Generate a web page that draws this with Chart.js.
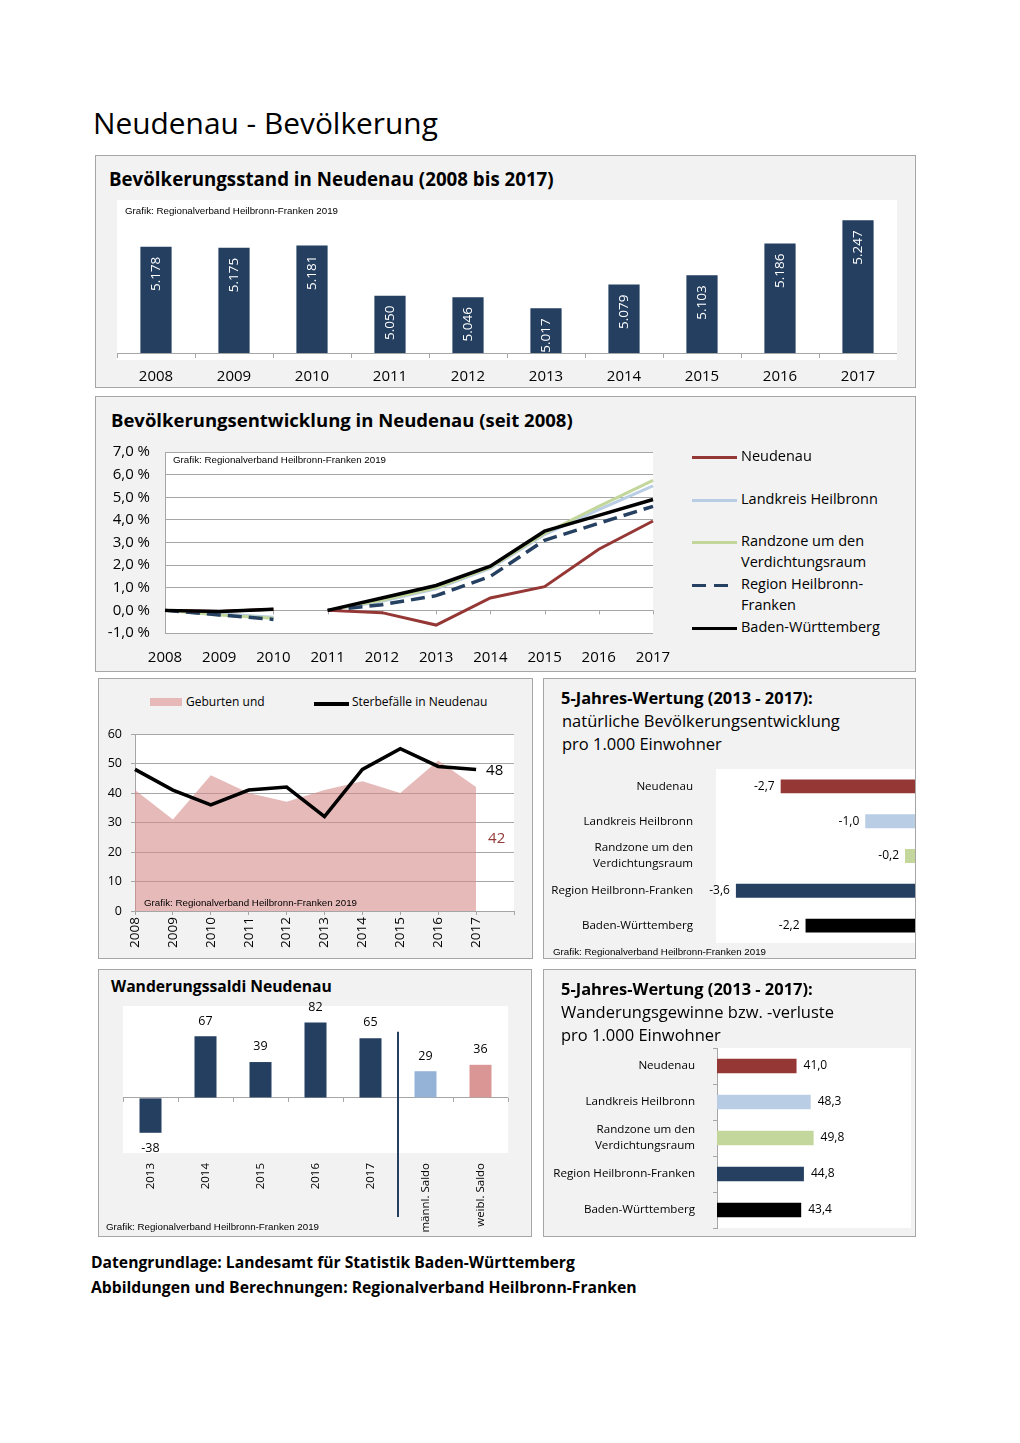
<!DOCTYPE html>
<html lang="de">
<head>
<meta charset="utf-8">
<title>Neudenau - Bevölkerung</title>
<script src="https://cdn.jsdelivr.net/npm/chart.js@4.4.1/dist/chart.umd.min.js"></script>
<style>
  body { margin: 0; background: #fff; font-family: "Open Sans", sans-serif; color: #000; }
  #page { position: relative; width: 1020px; height: 1443px; overflow: hidden; }
  .panel { position: absolute; background: #f2f2f2; border: 1px solid #a6a6a6; box-sizing: border-box; }
  .plot { position: absolute; background: #fff; }
  .txt { position: absolute; white-space: nowrap; line-height: 1; }
  .b { font-weight: 700; }
  .credit { font-family: "Liberation Sans", Arial, sans-serif; }
  canvas { position: absolute; }
  .key { position: absolute; height: 3px; }
</style>
</head>
<body>
<div id="page">
  <div class="txt" data-x="93" data-cy="124" data-fs="30" data-w="345">Neudenau - Bevölkerung</div>

  <!-- Bevölkerungsstand -->
  <div class="panel" style="left:95px;top:155px;width:821px;height:233px"></div>
  <div class="plot" style="left:117px;top:200px;width:780px;height:160px"></div>
  <div class="txt b" data-x="109" data-cy="180" data-fs="19" data-w="445">Bevölkerungsstand in Neudenau (2008 bis 2017)</div>
  <canvas id="c1" width="780" height="188" style="left:117px;top:200px"></canvas>
  <div class="txt credit" data-x="125" data-cy="211" data-fs="9" data-w="213">Grafik: Regionalverband Heilbronn-Franken 2019</div>

  <!-- Bevölkerungsentwicklung -->
  <div class="panel" style="left:95px;top:396px;width:821px;height:276px"></div>
  <div class="plot" style="left:165px;top:452px;width:488px;height:181px"></div>
  <div class="txt b" data-x="111" data-cy="421" data-fs="19" data-w="462">Bevölkerungsentwicklung in Neudenau (seit 2008)</div>
  <canvas id="c2" width="580" height="232" style="left:100px;top:440px"></canvas>
  <div class="txt credit" data-x="173" data-cy="460" data-fs="9" data-w="213">Grafik: Regionalverband Heilbronn-Franken 2019</div>
  <div class="key" style="left:692px;top:456px;width:45px;background:#953735"></div>
  <div class="key" style="left:692px;top:499px;width:45px;background:#b9cde5"></div>
  <div class="key" style="left:692px;top:541px;width:45px;background:#c3d69b"></div>
  <div class="key" style="left:692px;top:584px;width:44px;background:repeating-linear-gradient(90deg,#254061 0 14px,transparent 14px 22px)"></div>
  <div class="key" style="left:692px;top:627px;width:45px;background:#000"></div>
  <div class="txt" data-x="741" data-cy="457" data-fs="14.5">Neudenau</div>
  <div class="txt" data-x="741" data-cy="500" data-fs="14.5">Landkreis Heilbronn</div>
  <div class="txt" data-x="741" data-cy="542" data-fs="14.5">Randzone um den</div>
  <div class="txt" data-x="741" data-cy="563" data-fs="14.5">Verdichtungsraum</div>
  <div class="txt" data-x="741" data-cy="585" data-fs="14.5">Region Heilbronn-</div>
  <div class="txt" data-x="741" data-cy="606" data-fs="14.5">Franken</div>
  <div class="txt" data-x="741" data-cy="628" data-fs="14.5">Baden-Württemberg</div>

  <!-- Geburten und Sterbefälle -->
  <div class="panel" style="left:98px;top:678px;width:435px;height:281px"></div>
  <div class="plot" style="left:135px;top:734px;width:379px;height:177px"></div>
  <div style="position:absolute;left:150px;top:698px;width:32px;height:8px;background:#e6b9b8"></div>
  <div class="txt" data-x="186" data-cy="703" data-fs="12">Geburten und</div>
  <div class="key" style="left:314px;top:702px;width:35px;height:4px;background:#000"></div>
  <div class="txt" data-x="352" data-cy="703" data-fs="12">Sterbefälle in Neudenau</div>
  <canvas id="c3" width="435" height="239" style="left:98px;top:720px"></canvas>
  <div class="txt credit" data-x="144" data-cy="903" data-fs="9" data-w="213">Grafik: Regionalverband Heilbronn-Franken 2019</div>

  <!-- 5-Jahres-Wertung natürlich -->
  <div class="panel" style="left:543px;top:678px;width:373px;height:281px"></div>
  <div class="plot" style="left:716px;top:769px;width:199px;height:174px"></div>
  <div class="txt b" data-x="561" data-cy="699" data-fs="16.5" data-w="252">5-Jahres-Wertung (2013 - 2017):</div>
  <div class="txt" data-x="562" data-cy="722" data-fs="16.5" data-w="278">natürliche Bevölkerungsentwicklung</div>
  <div class="txt" data-x="562" data-cy="745" data-fs="16.5">pro 1.000 Einwohner</div>
  <canvas id="c4" width="373" height="190" style="left:543px;top:760px"></canvas>
  <div class="txt credit" data-x="553" data-cy="952" data-fs="9" data-w="213">Grafik: Regionalverband Heilbronn-Franken 2019</div>

  <!-- Wanderungssaldi -->
  <div class="panel" style="left:98px;top:969px;width:434px;height:268px"></div>
  <div class="plot" style="left:123px;top:1006px;width:385px;height:147px"></div>
  <div class="txt b" data-x="111" data-cy="988" data-fs="16.5" data-w="221">Wanderungssaldi Neudenau</div>
  <canvas id="c5" width="434" height="242" style="left:98px;top:995px"></canvas>
  <div class="txt credit" data-x="106" data-cy="1227" data-fs="9" data-w="213">Grafik: Regionalverband Heilbronn-Franken 2019</div>

  <!-- 5-Jahres-Wertung Wanderung -->
  <div class="panel" style="left:543px;top:969px;width:373px;height:268px"></div>
  <div class="plot" style="left:717px;top:1048px;width:194px;height:180px"></div>
  <div class="txt b" data-x="561" data-cy="990" data-fs="16.5" data-w="252">5-Jahres-Wertung (2013 - 2017):</div>
  <div class="txt" data-x="561" data-cy="1013" data-fs="16.5" data-w="273">Wanderungsgewinne bzw. -verluste</div>
  <div class="txt" data-x="561" data-cy="1036" data-fs="16.5">pro 1.000 Einwohner</div>
  <canvas id="c6" width="373" height="196" style="left:543px;top:1040px"></canvas>

  <div class="txt b" data-x="91" data-cy="1264" data-fs="16" data-w="484">Datengrundlage: Landesamt für Statistik Baden-Württemberg</div>
  <div class="txt b" data-x="91" data-cy="1289" data-fs="16" data-w="546">Abbildungen und Berechnungen: Regionalverband Heilbronn-Franken</div>
</div>

<script>
// Bevölkerungsstand
const popYears = ['2008', '2009', '2010', '2011', '2012', '2013', '2014', '2015', '2016', '2017'];
const popValues = [5178, 5175, 5181, 5050, 5046, 5017, 5079, 5103, 5186, 5247];

// Bevölkerungsentwicklung in % (Basis 2008, ab 2011 Basis 2011)
const devYears = ['2008', '2009', '2010', '2011', '2012', '2013', '2014', '2015', '2016', '2017'];
const devNeudenau = [0, -0.05, 0.05, 0, -0.1, -0.65, 0.55, 1.05, 2.7, 3.95];
const devLandkreis = [0, -0.15, -0.3, 0, 0.4, 0.95, 1.85, 3.35, 4.45, 5.5];
const devRandzone = [0, -0.2, -0.35, 0, 0.45, 1.0, 1.9, 3.4, 4.6, 5.75];
const devRegion = [0, -0.2, -0.4, 0, 0.25, 0.65, 1.5, 3.1, 3.85, 4.6];
const devBW = [0, -0.05, 0.05, 0, 0.55, 1.1, 1.95, 3.5, 4.2, 4.9];
const devTicks = [-1, 0, 1, 2, 3, 4, 5, 6, 7];

// Geburten und Sterbefälle
const natYears = ['2008', '2009', '2010', '2011', '2012', '2013', '2014', '2015', '2016', '2017'];
const births = [41, 31, 46, 40, 37, 41, 44, 40, 51, 42];
const deaths = [48, 41, 36, 41, 42, 32, 48, 55, 49, 48];

// 5-Jahres-Wertungen pro 1.000 Einwohner
const regions = ['Neudenau', 'Landkreis Heilbronn', ['Randzone um den', 'Verdichtungsraum'], 'Region Heilbronn-Franken', 'Baden-Württemberg'];
const natural5 = [-2.7, -1.0, -0.2, -3.6, -2.2];
const migration5 = [41.0, 48.3, 49.8, 44.8, 43.4];

// Wanderungssaldi
const migLabels = ['2013', '2014', '2015', '2016', '2017', 'männl. Saldo', 'weibl. Saldo'];
const migValues = [-38, 67, 39, 82, 65, 29, 36];

const navy = '#243f60';
const regionColors = ['#953735', '#b9cde5', '#c3d69b', '#254061', '#000000'];
const migColors = [navy, navy, navy, navy, navy, '#95b3d7', '#d99694'];
const gridColor = '#a6a6a6';

// place html texts, fit to target width
document.querySelectorAll('.txt').forEach(el => {
  let fs = parseFloat(el.dataset.fs);
  el.style.fontSize = fs + 'px';
  if (el.dataset.w) {
    fs = fs * el.dataset.w / el.getBoundingClientRect().width;
    el.style.fontSize = fs.toFixed(2) + 'px';
  }
  el.style.left = el.dataset.x + 'px';
  el.style.top = (el.dataset.cy - 0.55 * fs) + 'px';
});

Chart.defaults.font.family = '"Open Sans", sans-serif';
Chart.defaults.font.size = 12;
Chart.defaults.color = '#000';
Chart.defaults.animation = false;
Chart.defaults.responsive = false;
Chart.defaults.plugins.legend.display = false;
Chart.defaults.plugins.tooltip.enabled = false;

const de = v => v.toFixed(1).replace('.', ',');
const thousands = v => String(v).replace(/\B(?=(\d{3})+(?!\d))/g, '.');

// fixed axis size, no extra label padding so the plot area lands where the layout padding says
const fixBox = (w, h) => s => {
  if (w !== undefined) s.width = w;
  if (h !== undefined) s.height = h;
  s.paddingTop = s.paddingBottom = s.paddingLeft = s.paddingRight = 0;
};

// 1: Bevölkerungsstand
new Chart(document.getElementById('c1'), {
  type: 'bar',
  data: {
    labels: popYears,
    datasets: [{ data: popValues, backgroundColor: navy, barPercentage: 0.4, categoryPercentage: 1 }]
  },
  options: {
    scales: {
      x: {
        grid: { offset: true, drawOnChartArea: false, tickLength: 5, color: gridColor },
        border: { color: gridColor },
        ticks: { font: { size: 15 }, padding: 10 },
        afterFit: fixBox(undefined, 35)
      },
      y: { display: false, min: 4900, max: 5300 }
    }
  },
  plugins: [{
    id: 'barText',
    afterDatasetsDraw(chart) {
      const ctx = chart.ctx;
      ctx.save();
      ctx.fillStyle = '#fff';
      ctx.font = '13.5px "Open Sans"';
      ctx.textAlign = 'right';
      ctx.textBaseline = 'middle';
      chart.getDatasetMeta(0).data.forEach((bar, i) => {
        ctx.save();
        ctx.translate(bar.x, bar.y + 10);
        ctx.rotate(-Math.PI / 2);
        ctx.fillText(thousands(popValues[i]), 0, 0);
        ctx.restore();
      });
      ctx.restore();
    }
  }]
});

// 2: Bevölkerungsentwicklung
const breakAt2010 = { borderColor: c => c.p0DataIndex === 2 ? 'rgba(0,0,0,0)' : undefined };
const devLine = (data, color, order, extra) => Object.assign({
  data, borderColor: color, borderWidth: 3, pointRadius: 0, tension: 0, order, segment: breakAt2010
}, extra || {});

new Chart(document.getElementById('c2'), {
  type: 'line',
  data: {
    labels: devYears,
    datasets: [
      devLine(devNeudenau, '#953735', 1),
      devLine(devLandkreis, '#b9cde5', 4),
      devLine(devRandzone, '#c3d69b', 3),
      devLine(devRegion, '#254061', 2, { borderDash: [14, 7], borderWidth: 3.5 }),
      devLine(devBW, '#000000', 0, { borderWidth: 3.5 })
    ]
  },
  options: {
    layout: { padding: { top: 12, right: 27 } },
    scales: {
      x: {
        grid: { display: false },
        border: { display: false },
        ticks: { font: { size: 15 }, padding: 8, autoSkip: false, maxRotation: 0 },
        afterFit: fixBox(undefined, 39)
      },
      y: {
        min: devTicks[0], max: devTicks[devTicks.length - 1],
        afterBuildTicks: s => { s.ticks = devTicks.map(v => ({ value: v })); },
        ticks: { font: { size: 15 }, padding: 15, callback: v => de(v) + ' %' },
        grid: { color: gridColor, drawTicks: false },
        border: { color: gridColor },
        afterFit: fixBox(65)
      }
    }
  },
  plugins: [{
    id: 'zeroTicks',
    beforeDatasetsDraw(chart) {
      const { ctx, scales: { x, y } } = chart;
      const y0 = y.getPixelForValue(0);
      ctx.save();
      ctx.strokeStyle = gridColor;
      ctx.lineWidth = 1;
      devYears.forEach((_, i) => {
        const px = Math.round(x.getPixelForValue(i)) + 0.5;
        ctx.beginPath();
        ctx.moveTo(px, y0);
        ctx.lineTo(px, y0 + 4);
        ctx.stroke();
      });
      ctx.restore();
    }
  }]
});

// 3: Geburten und Sterbefälle
new Chart(document.getElementById('c3'), {
  type: 'line',
  data: {
    labels: natYears.concat(['']),
    datasets: [
      { data: deaths, borderColor: '#000', borderWidth: 3.5, pointRadius: 0, fill: false, order: 0 },
      { data: births, borderWidth: 0, borderColor: 'rgba(0,0,0,0)', backgroundColor: 'rgba(214,140,138,0.6)', fill: 'origin', pointRadius: 0, order: 1 }
    ]
  },
  options: {
    layout: { padding: { top: 14, right: 19 } },
    scales: {
      x: {
        grid: { drawOnChartArea: false, tickLength: 4, color: gridColor },
        border: { color: gridColor },
        ticks: { font: { size: 13.5 }, minRotation: 90, maxRotation: 90, padding: 2, autoSkip: false },
        afterFit: fixBox(undefined, 48)
      },
      y: {
        min: 0, max: 60,
        ticks: { stepSize: 10, font: { size: 12.5 }, padding: 9 },
        grid: { color: gridColor, tickLength: 4 },
        border: { color: gridColor },
        afterFit: fixBox(37)
      }
    }
  },
  plugins: [{
    id: 'lastValues',
    afterDatasetsDraw(chart) {
      const ctx = chart.ctx;
      const d = chart.getDatasetMeta(0).data[deaths.length - 1];
      const b = chart.getDatasetMeta(1).data[births.length - 1];
      ctx.save();
      ctx.font = '15px "Open Sans"';
      ctx.textAlign = 'left';
      ctx.textBaseline = 'middle';
      ctx.fillStyle = '#000';
      ctx.fillText(String(deaths[deaths.length - 1]), d.x + 10, d.y + 1);
      ctx.fillStyle = '#953735';
      ctx.fillText(String(births[births.length - 1]), b.x + 12, b.y + 52);
      ctx.restore();
    }
  }]
});

// 4: natürliche Bevölkerungsentwicklung
new Chart(document.getElementById('c4'), {
  type: 'bar',
  data: {
    labels: regions,
    datasets: [{ data: natural5, backgroundColor: regionColors, barPercentage: 0.4, categoryPercentage: 1 }]
  },
  options: {
    indexAxis: 'y',
    layout: { padding: { top: 9, bottom: 7, right: 1 } },
    scales: {
      x: { display: false, min: -4, max: 0 },
      y: {
        grid: { display: false, drawTicks: false },
        border: { display: false },
        ticks: { font: { size: 11.6, lineHeight: 1.4 }, padding: 23, autoSkip: false },
        afterFit: fixBox(173)
      }
    }
  },
  plugins: [{
    id: 'valLeft',
    afterDatasetsDraw(chart) {
      const ctx = chart.ctx;
      ctx.save();
      ctx.font = '12px "Open Sans"';
      ctx.textAlign = 'right';
      ctx.textBaseline = 'middle';
      chart.getDatasetMeta(0).data.forEach((bar, i) => {
        ctx.fillText(de(natural5[i]), bar.x - 6, bar.y);
      });
      ctx.restore();
    }
  }]
});

// 5: Wanderungssaldi
new Chart(document.getElementById('c5'), {
  type: 'bar',
  data: {
    labels: migLabels,
    datasets: [{ data: migValues, backgroundColor: migColors, barPercentage: 0.4, categoryPercentage: 1 }]
  },
  options: {
    layout: { padding: { left: 25, right: 24, top: 11 } },
    scales: {
      x: {
        grid: { display: false, drawTicks: false },
        border: { display: false },
        ticks: { font: { size: 11.5 }, minRotation: 90, maxRotation: 90, padding: 10, autoSkip: false },
        afterFit: fixBox(undefined, 84)
      },
      y: {
        min: -60, max: 100,
        ticks: { display: false, stepSize: 20 },
        grid: { color: c => c.tick.value === 0 ? gridColor : 'rgba(0,0,0,0)', drawTicks: false },
        border: { display: false },
        afterFit: fixBox(0)
      }
    }
  },
  plugins: [{
    id: 'migExtras',
    afterDatasetsDraw(chart) {
      const { ctx, scales: { x, y } } = chart;
      const y0 = y.getPixelForValue(0);
      ctx.save();
      ctx.strokeStyle = gridColor;
      ctx.lineWidth = 1;
      for (let i = 0; i <= migLabels.length; i++) {
        const px = Math.round(x.getPixelForValue(i - 0.5)) + 0.5;
        ctx.beginPath();
        ctx.moveTo(px, y0);
        ctx.lineTo(px, y0 + 4);
        ctx.stroke();
      }
      const sep = x.getPixelForValue(4.5);
      ctx.strokeStyle = '#254061';
      ctx.lineWidth = 2;
      ctx.beginPath();
      ctx.moveTo(sep, y.getPixelForValue(72));
      ctx.lineTo(sep, chart.height - 20);
      ctx.stroke();
      ctx.font = '12.5px "Open Sans"';
      ctx.fillStyle = '#000';
      ctx.textAlign = 'center';
      chart.getDatasetMeta(0).data.forEach((bar, i) => {
        const v = migValues[i];
        ctx.textBaseline = v < 0 ? 'top' : 'bottom';
        ctx.fillText(String(v), bar.x, v < 0 ? bar.y + 9 : bar.y - 9);
      });
      ctx.restore();
    }
  }]
});

// 6: Wanderungsgewinne
new Chart(document.getElementById('c6'), {
  type: 'bar',
  data: {
    labels: regions,
    datasets: [{ data: migration5, backgroundColor: regionColors, barPercentage: 0.4, categoryPercentage: 1 }]
  },
  options: {
    indexAxis: 'y',
    layout: { padding: { top: 8, bottom: 8, right: 5 } },
    scales: {
      x: { display: false, min: 0, max: 100 },
      y: {
        grid: { offset: true, drawOnChartArea: false, tickLength: 4, color: gridColor },
        border: { color: gridColor },
        ticks: { font: { size: 11.6, lineHeight: 1.4 }, padding: 18, autoSkip: false },
        afterFit: fixBox(174)
      }
    }
  },
  plugins: [{
    id: 'valRight',
    afterDatasetsDraw(chart) {
      const ctx = chart.ctx;
      ctx.save();
      ctx.font = '12px "Open Sans"';
      ctx.textAlign = 'left';
      ctx.textBaseline = 'middle';
      chart.getDatasetMeta(0).data.forEach((bar, i) => {
        ctx.fillText(de(migration5[i]), bar.x + 7, bar.y);
      });
      ctx.restore();
    }
  }]
});
</script>
</body>
</html>
